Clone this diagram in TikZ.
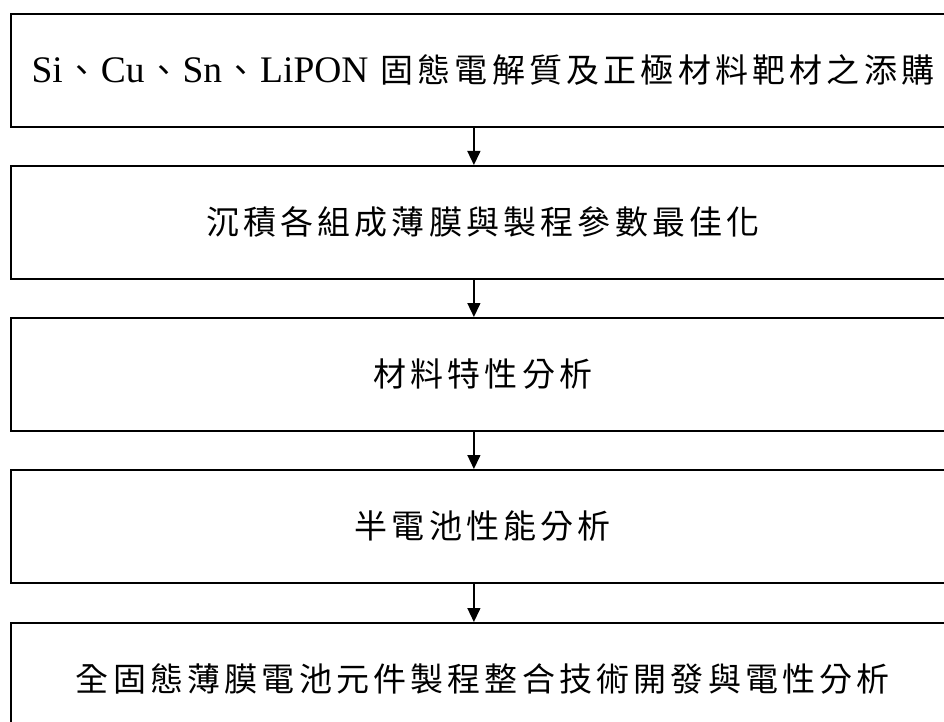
\documentclass[tikz,border=0pt]{standalone}
\usepackage{fontspec}
\setmainfont{Liberation Serif}
\newfontfamily\cjkfam[LetterSpace=12.7]{Noto Sans CJK TC}
\newcommand\zhtxt{\cjkfam\fontsize{33}{40}\selectfont}
\newcommand\dunhao{\hspace{2.5pt}{\zhtxt 、}\hspace{2.5pt}}
\usetikzlibrary{arrows.meta}
\begin{document}
\begin{tikzpicture}[x=1pt,y=-1pt,
  box/.style={draw, line width=1.8pt, rectangle, minimum width=944pt, minimum height=113pt,
    anchor=north west, inner sep=0pt, font=\fontsize{37.5}{40}\selectfont},
  flow/.style={-{Triangle[length=14pt,width=13pt]}, line width=1.4pt}]
\useasboundingbox (0,0) rectangle (944,722);
\clip (0,0) rectangle (944,722);
\node[box] (b1) at (10,13) {Si\dunhao Cu\dunhao Sn\dunhao LiPON\hspace{12pt}{\zhtxt 固態電解質及正極材料靶材之添購}};
\node[box] (b2) at (10,165) {\zhtxt 沉積各組成薄膜與製程參數最佳化};
\node[box] (b3) at (10,317) {\zhtxt 材料特性分析};
\node[box] (b4) at (10,469) {\zhtxt 半電池性能分析};
\node[box] (b5) at (10,622) {\zhtxt 全固態薄膜電池元件製程整合技術開發與電性分析};
\draw[flow] ([xshift=-9pt]b1.south) -- ([xshift=-9pt]b2.north);
\draw[flow] ([xshift=-9pt]b2.south) -- ([xshift=-9pt]b3.north);
\draw[flow] ([xshift=-9pt]b3.south) -- ([xshift=-9pt]b4.north);
\draw[flow] ([xshift=-9pt]b4.south) -- ([xshift=-9pt]b5.north);
\end{tikzpicture}
\end{document}
